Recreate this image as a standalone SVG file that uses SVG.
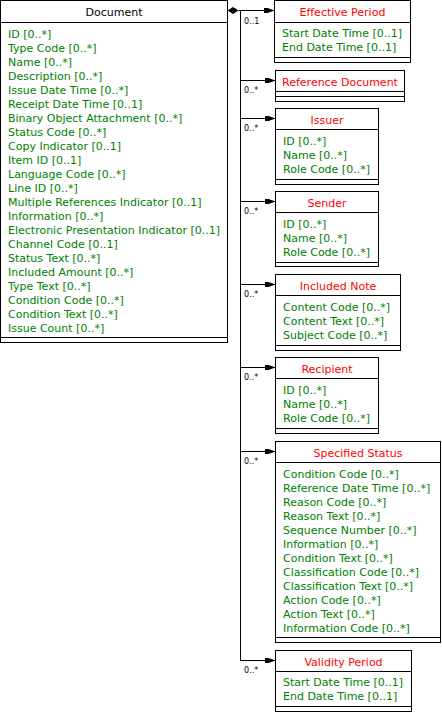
<svg xmlns="http://www.w3.org/2000/svg" width="442" height="726" viewBox="0 0 442 726">
<style>
.box{fill:#fff;stroke:#000;stroke-width:1}
.ln{stroke:#000;stroke-width:1;fill:none}
.hd{font-family:"DejaVu Sans",sans-serif;font-size:11px;fill:#ff0000;text-anchor:middle}
.hdb{font-family:"DejaVu Sans",sans-serif;font-size:11px;fill:#000;text-anchor:middle}
.at{font-family:"DejaVu Sans",sans-serif;font-size:11px;fill:#008000}
.mu{font-family:"DejaVu Sans",sans-serif;font-size:8px;fill:#000}
</style>
<defs>
<marker id="arr" markerUnits="userSpaceOnUse" markerWidth="12" markerHeight="8" refX="11" refY="3" orient="auto">
<path d="M0,0.5 L4,0.5 L11,3 L4,5.5 L0,5.5 Z" fill="#000"/>
</marker>
</defs>
<g id="Document">
<rect class="box" x="0.5" y="0.5" width="227" height="342"/>
<line class="ln" x1="0.5" y1="22.5" x2="227.5" y2="22.5"/>
<line class="ln" x1="0.5" y1="337.5" x2="227.5" y2="337.5"/>
<text class="hdb" x="114" y="16">Document</text>
<text class="at" x="8" y="38">ID [0..*]</text>
<text class="at" x="8" y="52">Type Code [0..*]</text>
<text class="at" x="8" y="66">Name [0..*]</text>
<text class="at" x="8" y="80">Description [0..*]</text>
<text class="at" x="8" y="94">Issue Date Time [0..*]</text>
<text class="at" x="8" y="108">Receipt Date Time [0..1]</text>
<text class="at" x="8" y="122">Binary Object Attachment [0..*]</text>
<text class="at" x="8" y="136">Status Code [0..*]</text>
<text class="at" x="8" y="150">Copy Indicator [0..1]</text>
<text class="at" x="8" y="164">Item ID [0..1]</text>
<text class="at" x="8" y="178">Language Code [0..*]</text>
<text class="at" x="8" y="192">Line ID [0..*]</text>
<text class="at" x="8" y="206">Multiple References Indicator [0..1]</text>
<text class="at" x="8" y="220">Information [0..*]</text>
<text class="at" x="8" y="234">Electronic Presentation Indicator [0..1]</text>
<text class="at" x="8" y="248">Channel Code [0..1]</text>
<text class="at" x="8" y="262">Status Text [0..*]</text>
<text class="at" x="8" y="276">Included Amount [0..*]</text>
<text class="at" x="8" y="290">Type Text [0..*]</text>
<text class="at" x="8" y="304">Condition Code [0..*]</text>
<text class="at" x="8" y="318">Condition Text [0..*]</text>
<text class="at" x="8" y="332">Issue Count [0..*]</text>
</g>
<g id="EffectivePeriod">
<rect class="box" x="274.5" y="0.5" width="136" height="62"/>
<line class="ln" x1="274.5" y1="22.5" x2="410.5" y2="22.5"/>
<line class="ln" x1="274.5" y1="57.5" x2="410.5" y2="57.5"/>
<text class="hd" x="342.5" y="16">Effective Period</text>
<text class="at" x="282" y="37">Start Date Time [0..1]</text>
<text class="at" x="282" y="51">End Date Time [0..1]</text>
</g>
<g id="ReferenceDocument">
<rect class="box" x="275.5" y="70.5" width="129" height="31"/>
<line class="ln" x1="275.5" y1="91.5" x2="404.5" y2="91.5"/>
<line class="ln" x1="275.5" y1="96.5" x2="404.5" y2="96.5"/>
<text class="hd" x="340" y="86">Reference Document</text>
</g>
<g id="Issuer">
<rect class="box" x="275.5" y="108.5" width="103" height="76"/>
<line class="ln" x1="275.5" y1="129.5" x2="378.5" y2="129.5"/>
<line class="ln" x1="275.5" y1="179.5" x2="378.5" y2="179.5"/>
<text class="hd" x="327" y="124">Issuer</text>
<text class="at" x="283" y="145">ID [0..*]</text>
<text class="at" x="283" y="159">Name [0..*]</text>
<text class="at" x="283" y="173">Role Code [0..*]</text>
</g>
<g id="Sender">
<rect class="box" x="275.5" y="191.5" width="103" height="75"/>
<line class="ln" x1="275.5" y1="212.5" x2="378.5" y2="212.5"/>
<line class="ln" x1="275.5" y1="262.5" x2="378.5" y2="262.5"/>
<text class="hd" x="327" y="207">Sender</text>
<text class="at" x="283" y="228">ID [0..*]</text>
<text class="at" x="283" y="242">Name [0..*]</text>
<text class="at" x="283" y="256">Role Code [0..*]</text>
</g>
<g id="IncludedNote">
<rect class="box" x="275.5" y="274.5" width="125" height="76"/>
<line class="ln" x1="275.5" y1="295.5" x2="400.5" y2="295.5"/>
<line class="ln" x1="275.5" y1="345.5" x2="400.5" y2="345.5"/>
<text class="hd" x="338" y="290">Included Note</text>
<text class="at" x="283" y="311">Content Code [0..*]</text>
<text class="at" x="283" y="325">Content Text [0..*]</text>
<text class="at" x="283" y="339">Subject Code [0..*]</text>
</g>
<g id="Recipient">
<rect class="box" x="275.5" y="357.5" width="103" height="76"/>
<line class="ln" x1="275.5" y1="378.5" x2="378.5" y2="378.5"/>
<line class="ln" x1="275.5" y1="428.5" x2="378.5" y2="428.5"/>
<text class="hd" x="327" y="373">Recipient</text>
<text class="at" x="283" y="394">ID [0..*]</text>
<text class="at" x="283" y="408">Name [0..*]</text>
<text class="at" x="283" y="422">Role Code [0..*]</text>
</g>
<g id="SpecifiedStatus">
<rect class="box" x="275.5" y="441.5" width="165" height="201"/>
<line class="ln" x1="275.5" y1="462.5" x2="440.5" y2="462.5"/>
<line class="ln" x1="275.5" y1="637.5" x2="440.5" y2="637.5"/>
<text class="hd" x="358" y="457">Specified Status</text>
<text class="at" x="283" y="478">Condition Code [0..*]</text>
<text class="at" x="283" y="492">Reference Date Time [0..*]</text>
<text class="at" x="283" y="506">Reason Code [0..*]</text>
<text class="at" x="283" y="520">Reason Text [0..*]</text>
<text class="at" x="283" y="534">Sequence Number [0..*]</text>
<text class="at" x="283" y="548">Information [0..*]</text>
<text class="at" x="283" y="562">Condition Text [0..*]</text>
<text class="at" x="283" y="576">Classification Code [0..*]</text>
<text class="at" x="283" y="590">Classification Text [0..*]</text>
<text class="at" x="283" y="604">Action Code [0..*]</text>
<text class="at" x="283" y="618">Action Text [0..*]</text>
<text class="at" x="283" y="632">Information Code [0..*]</text>
</g>
<g id="ValidityPeriod">
<rect class="box" x="275.5" y="650.5" width="136" height="61"/>
<line class="ln" x1="275.5" y1="671.5" x2="411.5" y2="671.5"/>
<line class="ln" x1="275.5" y1="706.5" x2="411.5" y2="706.5"/>
<text class="hd" x="343.5" y="666">Validity Period</text>
<text class="at" x="283" y="686">Start Date Time [0..1]</text>
<text class="at" x="283" y="700">End Date Time [0..1]</text>
</g>
<g id="connectors">
<polygon points="227.5,10.5 233,7 238.5,10.5 233,14" fill="#000"/>
<line class="ln" x1="238.5" y1="10.5" x2="274.5" y2="10.5" marker-end="url(#arr)"/>
<line class="ln" x1="240.5" y1="10.5" x2="240.5" y2="660.5"/>
<line class="ln" x1="240.5" y1="80.5" x2="275.5" y2="80.5" marker-end="url(#arr)"/>
<line class="ln" x1="240.5" y1="118.5" x2="275.5" y2="118.5" marker-end="url(#arr)"/>
<line class="ln" x1="240.5" y1="201.5" x2="275.5" y2="201.5" marker-end="url(#arr)"/>
<line class="ln" x1="240.5" y1="284.5" x2="275.5" y2="284.5" marker-end="url(#arr)"/>
<line class="ln" x1="240.5" y1="367.5" x2="275.5" y2="367.5" marker-end="url(#arr)"/>
<line class="ln" x1="240.5" y1="451.5" x2="275.5" y2="451.5" marker-end="url(#arr)"/>
<line class="ln" x1="240.5" y1="660.5" x2="275.5" y2="660.5" marker-end="url(#arr)"/>
<text class="mu" x="244" y="24">0..1</text>
<text class="mu" x="244" y="93">0..*</text>
<text class="mu" x="244" y="131">0..*</text>
<text class="mu" x="244" y="214">0..*</text>
<text class="mu" x="244" y="297">0..*</text>
<text class="mu" x="244" y="380">0..*</text>
<text class="mu" x="244" y="464">0..*</text>
<text class="mu" x="244" y="673">0..*</text>
</g>
</svg>
